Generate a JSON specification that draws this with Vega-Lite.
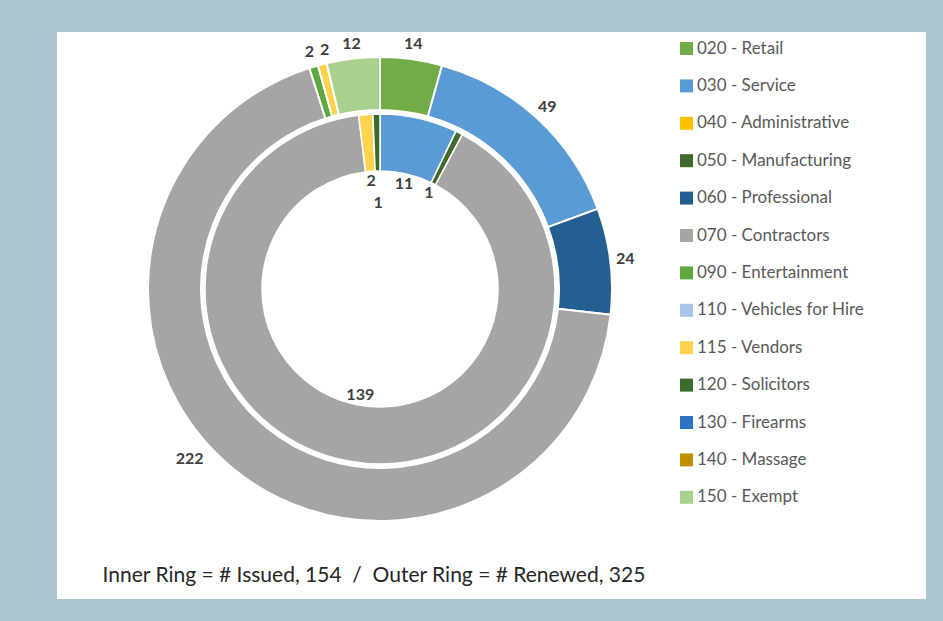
{
  "$schema": "https://vega.github.io/schema/vega-lite/v6.json",
  "background": "#abc5cf",
  "padding": {"left": 57, "top": 32, "right": 17, "bottom": 22},
  "config": {
    "view": {"fill": "white", "stroke": null},
    "concat": {"spacing": 0},
    "font": "Lato"
  },
  "datasets": {
    "rings": [
      {"ring": "Renewed", "category": "020 - Retail", "count": 14},
      {"ring": "Renewed", "category": "030 - Service", "count": 49},
      {"ring": "Renewed", "category": "060 - Professional", "count": 24},
      {"ring": "Renewed", "category": "070 - Contractors", "count": 222},
      {"ring": "Renewed", "category": "090 - Entertainment", "count": 2},
      {"ring": "Renewed", "category": "115 - Vendors", "count": 2},
      {"ring": "Renewed", "category": "150 - Exempt", "count": 12},
      {"ring": "Issued", "category": "030 - Service", "count": 11},
      {"ring": "Issued", "category": "050 - Manufacturing", "count": 1},
      {"ring": "Issued", "category": "070 - Contractors", "count": 139},
      {"ring": "Issued", "category": "115 - Vendors", "count": 2},
      {"ring": "Issued", "category": "120 - Solicitors", "count": 1}
    ]
  },
  "spacing": 0,
  "hconcat": [
    {
      "spacing": 0,
      "vconcat": [
        {
          "width": 646,
          "height": 514,
          "view": {"fill": "white", "stroke": null},
          "data": {"name": "rings"},
          "layer": [
            {
              "transform": [{"filter": "datum.ring == 'Renewed'"}],
              "mark": {"type": "arc", "radius": 232, "radius2": 179, "stroke": "white", "strokeWidth": 2},
              "encoding": {
                "theta": {"field": "count", "type": "quantitative", "stack": true},
                "order": {"field": "category", "sort": "ascending"},
                "color": {
                  "field": "category",
                  "type": "nominal",
                  "scale": {
                    "domain": ["020 - Retail", "030 - Service", "040 - Administrative", "050 - Manufacturing", "060 - Professional", "070 - Contractors", "090 - Entertainment", "110 - Vehicles for Hire", "115 - Vendors", "120 - Solicitors", "130 - Firearms", "140 - Massage", "150 - Exempt"],
                    "range": ["#70ad47", "#5b9bd5", "#ffc000", "#43682b", "#255e91", "#a5a5a5", "#5fa83f", "#a9c5eb", "#ffd34d", "#3b6a2a", "#2f72c4", "#bf9000", "#a9d18e"]
                  },
                  "legend": {
                    "title": null,
                    "orient": "right",
                    "offset": -256,
                    "padding": 8,
                    "symbolType": "square",
                    "symbolSize": 169,
                    "symbolStrokeWidth": 0,
                    "labelFont": "Lato",
                    "labelFontSize": 17,
                    "labelColor": "#595959",
                    "labelOffset": 2,
                    "labelLimit": 300,
                    "rowPadding": 19.4
                  }
                }
              }
            },
            {
              "transform": [{"filter": "datum.ring == 'Issued'"}],
              "mark": {"type": "arc", "radius": 175, "radius2": 118, "stroke": "white", "strokeWidth": 1.5},
              "encoding": {
                "theta": {"field": "count", "type": "quantitative", "stack": true},
                "order": {"field": "category", "sort": "ascending"},
                "color": {"field": "category", "type": "nominal"}
              }
            },
            {
              "transform": [{"filter": "datum.ring == 'Renewed'"}],
              "mark": {"type": "text", "radius": 247, "fontWeight": "bold", "fontSize": 16, "fill": "#404040", "font": "Lato"},
              "encoding": {
                "theta": {"field": "count", "type": "quantitative", "stack": true},
                "order": {"field": "category", "sort": "ascending"},
                "detail": {"field": "category"},
                "text": {"field": "count", "type": "quantitative", "condition": {"test": "datum.category == '070 - Contractors' || datum.category == '115 - Vendors'", "value": ""}}
              }
            },
            {
              "transform": [{"filter": "datum.ring == 'Renewed'"}],
              "mark": {"type": "text", "radius": 247, "dx": 6, "fontWeight": "bold", "fontSize": 16, "fill": "#404040", "font": "Lato"},
              "encoding": {
                "theta": {"field": "count", "type": "quantitative", "stack": true},
                "order": {"field": "category", "sort": "ascending"},
                "detail": {"field": "category"},
                "text": {"field": "count", "type": "quantitative", "condition": {"test": "datum.category != '115 - Vendors'", "value": ""}}
              }
            },
            {
              "transform": [{"filter": "datum.ring == 'Renewed'"}],
              "mark": {"type": "text", "radius": 220, "dx": -51, "fontWeight": "bold", "fontSize": 16, "fill": "#404040", "font": "Lato"},
              "encoding": {
                "theta": {"field": "count", "type": "quantitative", "stack": true},
                "order": {"field": "category", "sort": "ascending"},
                "detail": {"field": "category"},
                "text": {"field": "count", "type": "quantitative", "condition": {"test": "datum.category != '070 - Contractors'", "value": ""}}
              }
            },
            {
              "transform": [{"filter": "datum.ring == 'Issued'"}],
              "mark": {"type": "text", "radius": 108, "fontWeight": "bold", "fontSize": 16, "fill": "#404040", "font": "Lato"},
              "encoding": {
                "theta": {"field": "count", "type": "quantitative", "stack": true},
                "order": {"field": "category", "sort": "ascending"},
                "detail": {"field": "category"},
                "text": {"field": "count", "type": "quantitative", "condition": {"test": "datum.category == '120 - Solicitors'", "value": ""}}
              }
            },
            {
              "transform": [{"filter": "datum.ring == 'Issued'"}],
              "mark": {"type": "text", "radius": 86, "fontWeight": "bold", "fontSize": 16, "fill": "#404040", "font": "Lato"},
              "encoding": {
                "theta": {"field": "count", "type": "quantitative", "stack": true},
                "order": {"field": "category", "sort": "ascending"},
                "detail": {"field": "category"},
                "text": {"field": "count", "type": "quantitative", "condition": {"test": "datum.category != '120 - Solicitors'", "value": ""}}
              }
            }
          ],
          "resolve": {"scale": {"theta": "independent"}}
        },
        {
          "width": 646,
          "height": 53,
          "view": {"fill": "white", "stroke": null},
          "data": {"values": [{}]},
          "mark": {"type": "point", "opacity": 0},
          "title": {
            "text": "Inner Ring = # Issued, 154 \u00a0/\u00a0 Outer Ring = # Renewed, 325",
            "orient": "bottom",
            "anchor": "middle",
            "offset": -34,
            "dx": -6,
            "font": "Lato",
            "fontSize": 21,
            "fontWeight": "normal",
            "color": "#262626"
          }
        }
      ]
    },
    {
      "width": 223,
      "height": 567,
      "view": {"fill": "white", "stroke": null},
      "data": {"values": [{}]},
      "mark": {"type": "point", "opacity": 0}
    }
  ]
}
